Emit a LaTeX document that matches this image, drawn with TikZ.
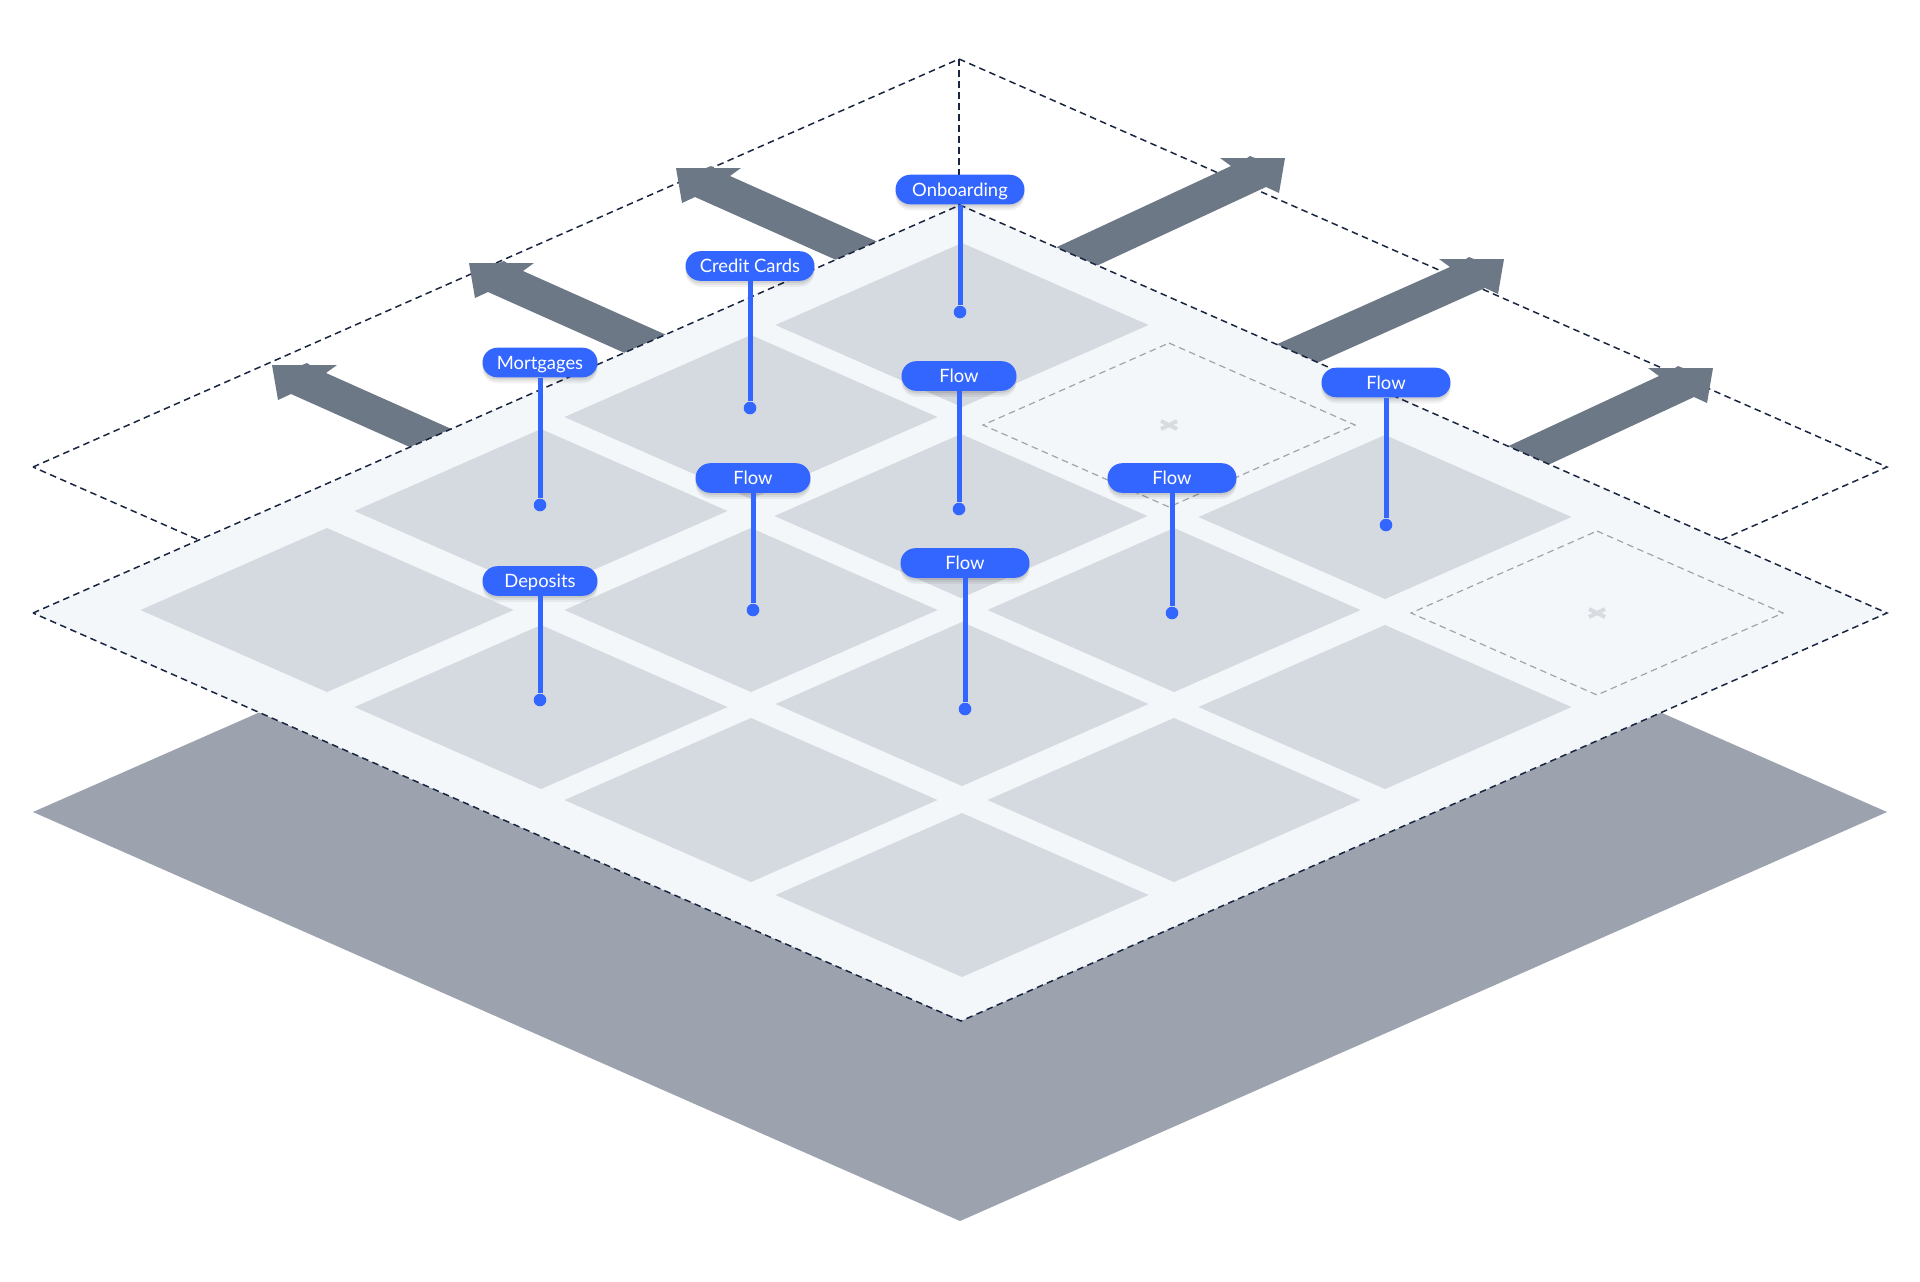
\documentclass[tikz,border=0pt]{standalone}
\usepackage{fontspec}
\setmainfont{Lato}
\usetikzlibrary{shadows}
\definecolor{groundgrey}{HTML}{9CA3AE}
\definecolor{plategrey}{HTML}{F3F7FA}
\definecolor{cellgrey}{HTML}{D5DAE0}
\definecolor{arrowgrey}{HTML}{6C7885}
\definecolor{pillblue}{HTML}{3366FF}
\definecolor{framenavy}{HTML}{1A2540}
\definecolor{slotgrey}{HTML}{A0A5AC}
\definecolor{crossgrey}{HTML}{D8DCE1}
\tikzset{
  frameline/.style={draw=framenavy,line width=0.75pt,dash pattern=on 3.3pt off 2.2pt},
  slotline/.style={draw=slotgrey,line width=0.6pt,dash pattern=on 3.3pt off 2.2pt},
  pill/.style={rounded corners=7.4pt,fill=pillblue,text=white,font=\fontsize{9.2}{10}\selectfont,
    minimum width=57.5pt,minimum height=14.8pt,inner sep=0pt,text height=6.5pt,text depth=0pt,
    drop shadow={shadow xshift=0pt,shadow yshift=-3pt,opacity=0.05,fill=black},
    drop shadow={shadow xshift=0pt,shadow yshift=-2pt,opacity=0.06,fill=black},
    drop shadow={shadow xshift=0pt,shadow yshift=-1pt,opacity=0.08,fill=black}},
  widepill/.style={pill,minimum width=64.5pt},
  pin/.style={circle,fill=pillblue,inner sep=0pt,minimum size=6.3pt},
  stem/.style={draw=pillblue,line width=2.5pt},
}
\begin{document}
\begin{tikzpicture}[x=0.5pt,y=-0.5pt]
\useasboundingbox (0,0) rectangle (1920,1281);
% ground sheet
\fill[groundgrey] (33,812) -- (960,404) -- (1887,812) -- (960,1221) -- cycle;
% upper frame
\draw[frameline] (33,467) -- (959,59) -- (1887,467) -- (960,875) -- cycle;
\draw[frameline] (959,59) -- (959,205);
% arrows, right then left
\foreach \tx/\ty/\flip/\rise in {1285/158/1/129,1504/259/1/124,1713/368/1/129,676/168/-1/124,469/263/-1/124,272/365/-1/124}
  \fill[arrowgrey,shift={(\tx,\ty)},xscale=\flip]
    (0,0) -- (-30,0) -- (-35,-2) -- (-38,0) -- (-65,0) -- (-54,8) -- (-314,\rise)
    -- (-279,\rise+21) -- (-19,29) -- (-6,35) -- cycle;
% plate
\fill[plategrey] (33,613) -- (960,205) -- (1887,613) -- (961,1021) -- cycle;
\draw[frameline] (33,613) -- (960,205) -- (1887,613) -- (961,1021) -- cycle;
% cells
\foreach \cx/\cy in {962/325,751/417,541/511,961/516,1385/517,327/610,751/610,1174/610,
  541/707,962/704,1385/707,751/800,1174/800,962/895}
  \fill[cellgrey,shift={(\cx,\cy)}] (0,-82) -- (186.5,0) -- (0,82) -- (-186.5,0) -- cycle;
% empty slots
\foreach \cx/\cy in {1169/425,1597/613} {
  \draw[slotline,shift={(\cx,\cy)}] (0,-82) -- (186,0) -- (0,82) -- (-186,0) -- cycle;
  \draw[crossgrey,line width=2pt,shift={(\cx,\cy)}] (-8,-4) -- (8,4) (-8,4) -- (8,-4);
}
% labels
\node[widepill] (onboarding) at (960,189.5) {Onboarding};
\node[widepill] (credit) at (750,266) {Credit Cards};
\node[pill] (mortgages) at (540,362.5) {Mortgages};
\node[pill] (deposits) at (540,581) {Deposits};
\node[pill] (flowa) at (959,376) {Flow};
\node[pill] (flowb) at (753,478) {Flow};
\node[widepill] (flowc) at (965,563) {Flow};
\node[widepill] (flowd) at (1172,478) {Flow};
\node[widepill] (flowe) at (1386,382.5) {Flow};
% pins
\node[pin] (ponboarding) at (960,312) {};
\node[pin] (pcredit) at (750,408) {};
\node[pin] (pmortgages) at (540,505) {};
\node[pin] (pdeposits) at (540,700) {};
\node[pin] (pflowa) at (959,509) {};
\node[pin] (pflowb) at (753,610) {};
\node[pin] (pflowc) at (965,709) {};
\node[pin] (pflowd) at (1172,613) {};
\node[pin] (pflowe) at (1386,525) {};
% stems
\foreach \a in {onboarding,credit,mortgages,deposits,flowa,flowb,flowc,flowd,flowe}
  \draw[stem] (\a) -- (p\a);
\end{tikzpicture}
\end{document}
